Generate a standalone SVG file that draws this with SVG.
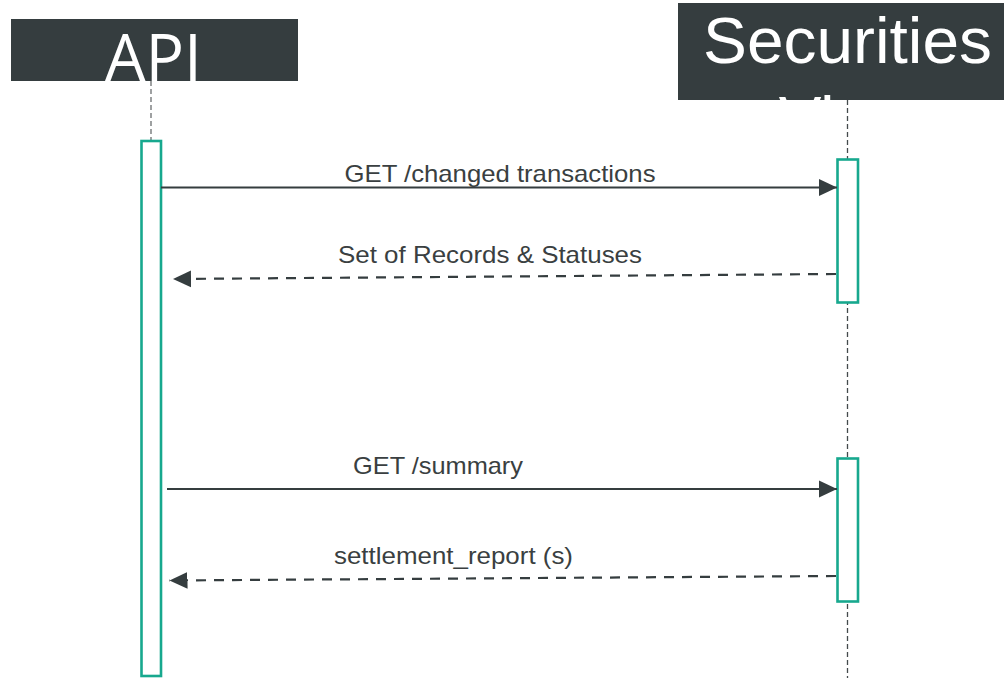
<svg xmlns="http://www.w3.org/2000/svg" width="1004" height="678" viewBox="0 0 1004 678">
<style>
.hdr{fill:#353d3f}
.htxt{fill:#ffffff;font-family:"Liberation Sans",Arial,sans-serif;text-anchor:middle}
.life{stroke:#6b6f70;stroke-width:1.3;stroke-dasharray:5 3;fill:none}
.act{fill:#ffffff;stroke:#17a88e;stroke-width:2.6}
.msg{stroke:#353d3f;stroke-width:2.2;fill:none}
.dash{stroke-dasharray:10 8}
.lbl{fill:#3a3f41;font-family:"Liberation Sans",Arial,sans-serif;font-size:24px;text-anchor:middle}
</style>
<defs>
<marker id="ah" markerUnits="userSpaceOnUse" markerWidth="18" markerHeight="18" viewBox="0 0 16 16" refX="16" refY="8" orient="auto">
<path d="M0,0.5 L16,8 L0,15.5 Z" fill="#353d3f"/>
</marker>
</defs>
<rect width="1004" height="678" fill="#ffffff"/>
<g id="api">
<rect class="hdr" x="11" y="19" width="287" height="62"/>
<text x="153.5" y="81" style="fill:#ffffff;font-family:'Open Sans','Liberation Sans',sans-serif;font-size:66px;text-anchor:middle" textLength="97" lengthAdjust="spacingAndGlyphs">API</text>
<line class="life" x1="151" y1="81" x2="151" y2="141"/>
<rect class="act" x="141.5" y="141" width="19.5" height="535"/>
</g>
<g id="securities">
<rect class="hdr" x="678" y="3" width="330" height="97"/>
<text class="htxt" x="847.5" y="63" font-size="64" textLength="289" lengthAdjust="spacingAndGlyphs">Securities</text>
<text class="htxt" x="847.5" y="142" font-size="64">View</text>
<line class="life" x1="847.5" y1="100" x2="847.5" y2="678" style="stroke:#444a4c"/>
<rect class="act" x="837.5" y="159.5" width="20.5" height="143"/>
<rect class="act" x="837.5" y="458.5" width="20.5" height="143"/>
</g>
<g id="connectors">
<line class="msg" x1="161" y1="187.5" x2="837" y2="187.5" marker-end="url(#ah)"/>
<text class="lbl" x="500" y="182" textLength="311" lengthAdjust="spacingAndGlyphs">GET /changed transactions</text>
<line class="msg dash" x1="836" y1="274" x2="173" y2="279" marker-end="url(#ah)"/>
<text class="lbl" x="490" y="263" textLength="304" lengthAdjust="spacingAndGlyphs">Set of Records &amp; Statuses</text>
<line class="msg" x1="167" y1="489" x2="837" y2="489" marker-end="url(#ah)"/>
<text class="lbl" x="438" y="474" textLength="170" lengthAdjust="spacingAndGlyphs">GET /summary</text>
<line class="msg dash" x1="836" y1="576" x2="169.5" y2="580.5" marker-end="url(#ah)"/>
<text class="lbl" x="453.5" y="564" textLength="239" lengthAdjust="spacingAndGlyphs">settlement_report (s)</text>
</g>
</svg>
